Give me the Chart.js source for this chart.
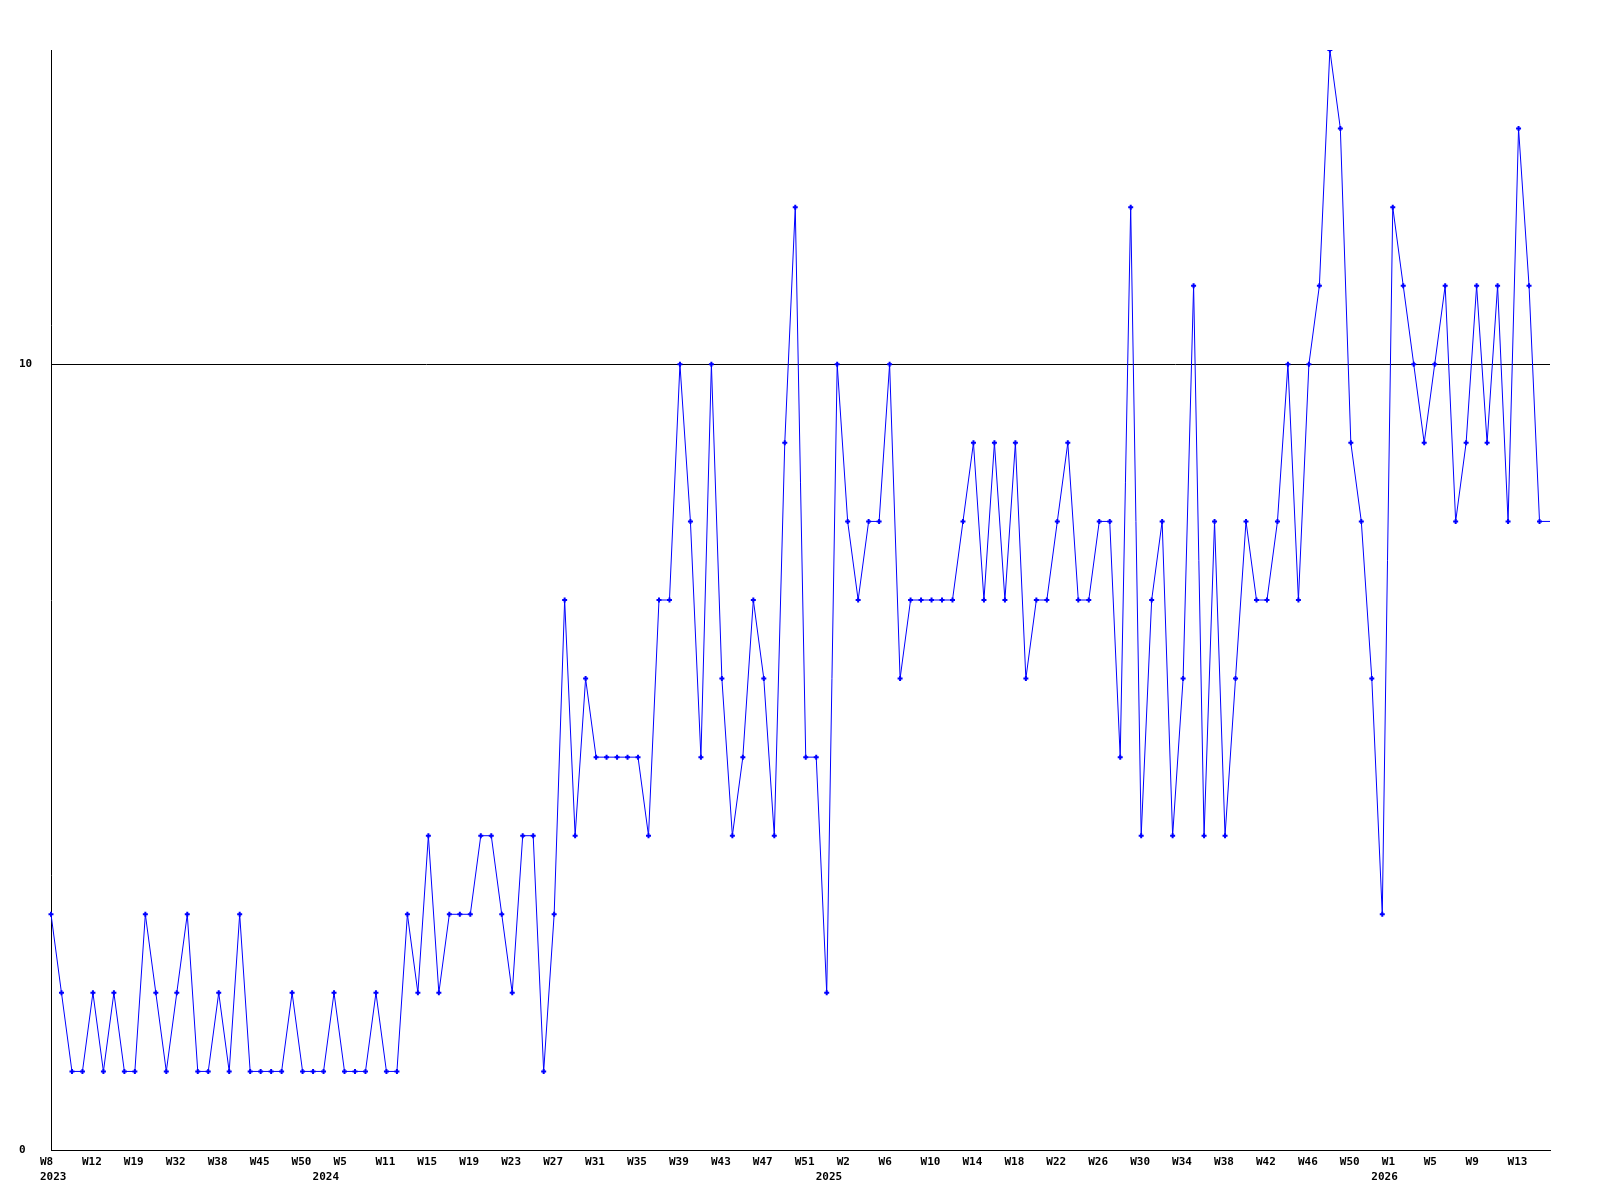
<!DOCTYPE html>
<html>
<head>
<meta charset="utf-8">
<title>Weekly count</title>
<script src="https://cdn.jsdelivr.net/npm/chart.js@4/dist/chart.umd.min.js"></script>
<style>
  html, body { margin: 0; padding: 0; background: #fff; }
  canvas { display: block; }
</style>
</head>
<body>
<canvas id="chart" width="1600" height="1200"></canvas>
<script>
// ── data ─────────────────────────────────────────────────────────────────────
// weeks that have data, per year (weeks without data are simply absent)
const weeks2023 = [8, 9, 10, 11, 12, 14, 16, 18, 19, 22, 25, 29, 32, 33, 35, 37, 38, 40, 42, 44, 45, 46, 48, 49, 50, 52];
const weeks2024 = [0, 3, 5, 7, 8, 10, 11, 12, 13, 14, 15, 16, 17, 18, 19, 20, 21, 22, 23, 24, 25, 26, 27, 28, 29, 30,
  31, 32, 33, 34, 35, 36, 37, 38, 39, 40, 41, 42, 43, 44, 45, 46, 47, 48, 49, 50, 51, 52];
const weeks2025 = [0, 1, 2, 3, 4, 5, 6, 7, 8, 9, 10, 11, 12, 13, 14, 15, 16, 17, 18, 19, 20, 21, 22, 23, 24, 25, 26,
  27, 28, 29, 30, 31, 32, 33, 34, 35, 36, 37, 38, 39, 40, 41, 42, 43, 44, 45, 46, 47, 48, 49, 50, 51, 52];
const weeks2026 = [0, 1, 2, 3, 4, 5, 6, 7, 8, 9, 10, 11, 12, 13, 14, 15, 16];
const years = ['2023', '2024', '2025', '2026'];

const counts = [
  3, 2, 1, 1, 2, 1, 2, 1, 1, 3,
  2, 1, 2, 3, 1, 1, 2, 1, 3, 1,
  1, 1, 1, 2, 1, 1, 1, 2, 1, 1,
  1, 2, 1, 1, 3, 2, 4, 2, 3, 3,
  3, 4, 4, 3, 2, 4, 4, 1, 3, 7,
  4, 6, 5, 5, 5, 5, 5, 4, 7, 7,
  10, 8, 5, 10, 6, 4, 5, 7, 6, 4,
  9, 12, 5, 5, 2, 10, 8, 7, 8, 8,
  10, 6, 7, 7, 7, 7, 7, 8, 9, 7,
  9, 7, 9, 6, 7, 7, 8, 9, 7, 7,
  8, 8, 5, 12, 4, 7, 8, 4, 6, 11,
  4, 8, 4, 6, 8, 7, 7, 8, 10, 7,
  10, 11, 14, 13, 9, 8, 6, 3, 12, 11,
  10, 9, 10, 11, 8, 9, 11, 9, 11, 8,
  13, 11, 8, 8,
];

const yTicks = [0, 10];
const yMax = 14;
const labelEvery = 4;

// ── build categories ─────────────────────────────────────────────────────────
const categories = [];
[weeks2023, weeks2024, weeks2025, weeks2026].forEach((weeks, y) => {
  weeks.forEach((w, i) => categories.push({ year: years[y], week: w, firstOfYear: i === 0 }));
});
const labels = categories.map((c) => `${c.year}-W${c.week}`);

const FONT = { family: 'DejaVu Sans Mono', size: 11, weight: 'bold', lineHeight: 15 / 11 };

new Chart(document.getElementById('chart'), {
  type: 'line',
  data: {
    labels,
    datasets: [
      {
        data: counts,
        borderColor: '#0000ff',
        backgroundColor: '#0000ff',
        borderWidth: 1,
        tension: 0,
        fill: false,
        pointStyle: 'cross',
        pointRadius: (ctx) => (ctx.dataIndex === counts.length - 1 ? 0 : 2.5),
        pointBorderWidth: 2,
        pointBorderColor: '#0000ff',
      },
    ],
  },
  options: {
    responsive: false,
    animation: false,
    devicePixelRatio: 1,
    layout: { padding: { top: 50, right: 50, left: 19, bottom: 0 } },
    plugins: { legend: { display: false }, tooltip: { enabled: false } },
    scales: {
      x: {
        type: 'category',
        offset: false,
        grid: { display: false, drawTicks: false },
        border: { display: true, color: '#000', width: 1 },
        afterFit: (scale) => { scale.height = 50; },
        ticks: {
          autoSkip: false,
          maxRotation: 0,
          minRotation: 0,
          align: 'start',
          labelOffset: -11,
          padding: 5,
          color: '#000',
          font: FONT,
          callback: (value, index) => {
            const c = categories[index];
            const week = index % labelEvery === 0 ? `W${c.week}` : '';
            return c.firstOfYear ? [week, c.year] : week;
          },
        },
      },
      y: {
        min: 0,
        max: yMax,
        afterBuildTicks: (scale) => { scale.ticks = yTicks.map((v) => ({ value: v })); },
        afterFit: (scale) => { scale.width = 32; },
        grid: { display: true, color: '#000', lineWidth: 1, drawTicks: false },
        border: { display: true, color: '#000', width: 1 },
        ticks: {
          crossAlign: 'far',
          padding: 0,
          color: '#000',
          font: FONT,
        },
      },
    },
  },
});
</script>
</body>
</html>
